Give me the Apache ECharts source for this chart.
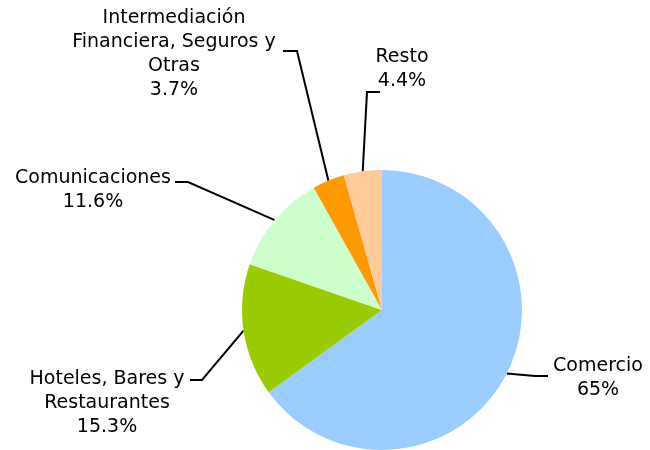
<!DOCTYPE html>
<html>
<head>
<meta charset="utf-8">
<script src="https://cdn.jsdelivr.net/npm/echarts@6/dist/echarts.min.js"></script>
<style>
html, body { margin: 0; padding: 0; background: #fff; }
#chart { width: 650px; height: 450px; }
</style>
</head>
<body>
<div id="chart"></div>
<script>
var sectores = ["Comercio", "Hoteles, Bares y\nRestaurantes", "Comunicaciones", "Intermediación\nFinanciera, Seguros y\nOtras", "Resto"];
var valores = [65, 15.3, 11.6, 3.7, 4.4];
var etiquetas = ["65%", "15.3%", "11.6%", "3.7%", "4.4%"];
var colores = ["#99CCFF", "#99CC00", "#CCFFCC", "#FF9900", "#FFCC99"];

// label block centres and where the leader line meets the text
var posEtiquetas = [[598, 378], [107, 403], [93, 190], [174, 54], [402, 69]];
var puntosUnion = [[548, 376], [190, 380], [175, 182], [283, 51], [380, 92]];
var codos = [[535, 376], [202, 380], [188, 182], [297, 51], [367, 92]];

var chart = echarts.init(document.getElementById("chart"));
var datos = [];
for (var i = 0; i < sectores.length; i++) {
	datos.push({
		name : sectores[i],
		value : valores[i],
		itemStyle : { color : colores[i] }
	});
}

chart.setOption({
	animation : false,
	series : [ {
		type : "pie",
		center : [ 382, 310 ],
		radius : 140,
		startAngle : 90,
		clockwise : true,
		data : datos,
		label : {
			show : true,
			color : "#000",
			fontFamily : "DejaVu Sans",
			fontSize : 19,
			lineHeight : 24,
			align : "center",
			formatter : function(p) {
				return p.name + "\n" + etiquetas[p.dataIndex];
			}
		},
		labelLine : {
			show : true,
			length : 15,
			length2 : 12,
			lineStyle : { color : "#000", width : 2 }
		},
		labelLayout : function(p) {
			var k = p.dataIndex;
			var pos = posEtiquetas[k];
			var res = {
				x : pos[0],
				y : pos[1],
				align : "center",
				verticalAlign : "middle"
			};
			if (p.labelLinePoints) {
				res.labelLinePoints = [ p.labelLinePoints[0], codos[k], puntosUnion[k] ];
			}
			return res;
		},
		emphasis : { disabled : true }
	} ]
});
</script>
</body>
</html>
